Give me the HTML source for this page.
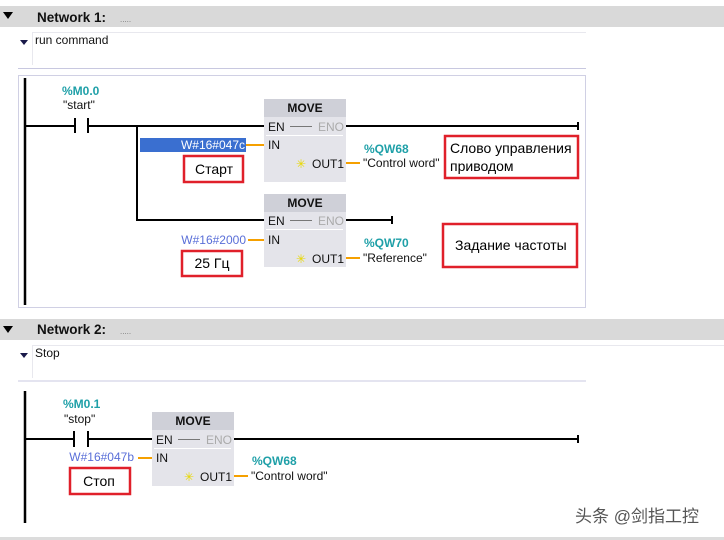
<!DOCTYPE html>
<html><head><meta charset="utf-8"><style>
html,body{margin:0;padding:0;background:#fff;width:724px;height:540px;overflow:hidden}
svg{display:block}
text{font-family:"Liberation Sans","Noto Sans CJK SC",sans-serif}
</style></head><body>
<svg width="724" height="540" viewBox="0 0 724 540" xmlns="http://www.w3.org/2000/svg">
<!-- Network 1 header -->
<rect x="0" y="6" width="724" height="21" fill="#d9d9d9"/>
<polygon points="3,12 13,12 8,19" fill="#000"/>
<text x="37" y="22" font-size="13.5" font-weight="bold" fill="#111">Network 1:</text>
<text x="120" y="22" font-size="8" fill="#777">.....</text>
<line x1="32" y1="32.5" x2="586" y2="32.5" stroke="#e8e8ee"/>
<line x1="32.5" y1="32" x2="32.5" y2="65" stroke="#e8e8ee"/>
<polygon points="20,40 28,40 24,45" fill="#1a1a4a"/>
<text x="35" y="44" font-size="12" fill="#111">run command</text>
<line x1="18" y1="68.5" x2="586" y2="68.5" stroke="#c8c8e0"/>
<rect x="18.5" y="75.5" width="567" height="232" fill="none" stroke="#d0d0e4"/>
<line x1="25" y1="78" x2="25" y2="305" stroke="#000" stroke-width="2.5"/>
<!-- contact -->
<text x="62" y="95" font-size="12" font-weight="bold" fill="#1fa0a8">%M0.0</text>
<text x="63" y="109" font-size="12" fill="#111">"start"</text>
<line x1="25" y1="126" x2="74" y2="126" stroke="#000" stroke-width="2"/>
<line x1="75" y1="118" x2="75" y2="133" stroke="#000" stroke-width="2"/>
<line x1="88" y1="118" x2="88" y2="133" stroke="#000" stroke-width="2"/>
<line x1="88" y1="126" x2="264" y2="126" stroke="#000" stroke-width="2"/>
<line x1="137" y1="126" x2="137" y2="221" stroke="#000" stroke-width="2"/>
<line x1="137" y1="220" x2="264" y2="220" stroke="#000" stroke-width="2"/>
<line x1="346" y1="126" x2="578" y2="126" stroke="#000" stroke-width="2"/>
<line x1="578" y1="122" x2="578" y2="130" stroke="#000" stroke-width="2"/>
<line x1="346" y1="220" x2="392" y2="220" stroke="#000" stroke-width="2"/>
<line x1="392" y1="216" x2="392" y2="224" stroke="#000" stroke-width="2"/>
<!-- box 1 -->
<rect x="264" y="99" width="82" height="83" fill="#e4e4ea"/>
<rect x="264" y="99" width="82" height="18" fill="#cfd0d8"/>
<text x="305" y="112" font-size="12" font-weight="bold" text-anchor="middle" fill="#111">MOVE</text>
<text x="268" y="131" font-size="12" fill="#111">EN</text>
<line x1="290" y1="126.5" x2="312" y2="126.5" stroke="#777"/>
<text x="318" y="131" font-size="12" fill="#aaa">ENO</text>
<line x1="266" y1="135.5" x2="343" y2="135.5" stroke="#fff"/>
<text x="268" y="149" font-size="12" fill="#111">IN</text>
<text x="296" y="168" font-size="12" fill="#e8d800">✳</text>
<text x="312" y="168" font-size="12" fill="#111">OUT1</text>
<rect x="140" y="138" width="106" height="14" fill="#3a6fd0"/>
<text x="245" y="149" font-size="12" text-anchor="end" fill="#fff">W#16#047c</text>
<line x1="246" y1="145" x2="264" y2="145" stroke="#f5a000" stroke-width="2"/>
<rect x="184" y="156" width="59" height="26" fill="none" stroke="#e0202a" stroke-width="2.5"/>
<text x="214" y="174" font-size="14" text-anchor="middle" fill="#000">Старт</text>
<line x1="346" y1="163" x2="360" y2="163" stroke="#f5a000" stroke-width="2"/>
<text x="364" y="153" font-size="12" font-weight="bold" fill="#1fa0a8">%QW68</text>
<text x="363" y="167" font-size="12" fill="#111">"Control word"</text>
<rect x="445" y="136" width="133" height="42" fill="none" stroke="#e0202a" stroke-width="2.5"/>
<text x="450" y="153" font-size="14" fill="#000">Слово управления</text>
<text x="450" y="171" font-size="14" fill="#000">приводом</text>
<!-- box 2 -->
<rect x="264" y="194" width="82" height="73" fill="#e4e4ea"/>
<rect x="264" y="194" width="82" height="18" fill="#cfd0d8"/>
<text x="305" y="207" font-size="12" font-weight="bold" text-anchor="middle" fill="#111">MOVE</text>
<text x="268" y="225" font-size="12" fill="#111">EN</text>
<line x1="290" y1="220.5" x2="312" y2="220.5" stroke="#777"/>
<text x="318" y="225" font-size="12" fill="#aaa">ENO</text>
<line x1="266" y1="229.5" x2="343" y2="229.5" stroke="#fff"/>
<text x="268" y="244" font-size="12" fill="#111">IN</text>
<text x="296" y="263" font-size="12" fill="#e8d800">✳</text>
<text x="312" y="263" font-size="12" fill="#111">OUT1</text>
<text x="246" y="244" font-size="12" text-anchor="end" fill="#5a6fd8">W#16#2000</text>
<line x1="248" y1="240" x2="264" y2="240" stroke="#f5a000" stroke-width="2"/>
<rect x="182" y="251" width="60" height="25" fill="none" stroke="#e0202a" stroke-width="2.5"/>
<text x="212" y="268" font-size="14" text-anchor="middle" fill="#000">25 Гц</text>
<line x1="346" y1="258" x2="360" y2="258" stroke="#f5a000" stroke-width="2"/>
<text x="364" y="247" font-size="12" font-weight="bold" fill="#1fa0a8">%QW70</text>
<text x="363" y="262" font-size="12" fill="#111">"Reference"</text>
<rect x="443" y="224" width="134" height="43" fill="none" stroke="#e0202a" stroke-width="2.5"/>
<text x="455" y="250" font-size="14" fill="#000">Задание частоты</text>

<!-- Network 2 -->
<rect x="0" y="319" width="724" height="21" fill="#d9d9d9"/>
<polygon points="3,326 13,326 8,333" fill="#000"/>
<text x="37" y="334" font-size="13.5" font-weight="bold" fill="#111">Network 2:</text>
<text x="120" y="334" font-size="8" fill="#777">.....</text>
<line x1="32" y1="345.5" x2="724" y2="345.5" stroke="#e8e8ee"/>
<line x1="32.5" y1="345" x2="32.5" y2="378" stroke="#e8e8ee"/>
<polygon points="20,353 28,353 24,358" fill="#1a1a4a"/>
<text x="35" y="357" font-size="12" fill="#111">Stop</text>
<line x1="18" y1="381" x2="586" y2="381" stroke="#c8c8e0"/>
<line x1="25" y1="391" x2="25" y2="523" stroke="#000" stroke-width="2.5"/>
<text x="63" y="408" font-size="12" font-weight="bold" fill="#1fa0a8">%M0.1</text>
<text x="64" y="423" font-size="12" fill="#111">"stop"</text>
<line x1="25" y1="439" x2="74" y2="439" stroke="#000" stroke-width="2"/>
<line x1="74" y1="431" x2="74" y2="447" stroke="#000" stroke-width="2"/>
<line x1="88" y1="431" x2="88" y2="447" stroke="#000" stroke-width="2"/>
<line x1="88" y1="439" x2="152" y2="439" stroke="#000" stroke-width="2"/>
<line x1="234" y1="439" x2="578" y2="439" stroke="#000" stroke-width="2"/>
<line x1="578" y1="435" x2="578" y2="443" stroke="#000" stroke-width="2"/>
<rect x="152" y="412" width="82" height="74" fill="#e4e4ea"/>
<rect x="152" y="412" width="82" height="18" fill="#cfd0d8"/>
<text x="193" y="425" font-size="12" font-weight="bold" text-anchor="middle" fill="#111">MOVE</text>
<text x="156" y="444" font-size="12" fill="#111">EN</text>
<line x1="178" y1="439.5" x2="200" y2="439.5" stroke="#777"/>
<text x="206" y="444" font-size="12" fill="#aaa">ENO</text>
<line x1="154" y1="448.5" x2="231" y2="448.5" stroke="#fff"/>
<text x="156" y="462" font-size="12" fill="#111">IN</text>
<text x="184" y="481" font-size="12" fill="#e8d800">✳</text>
<text x="200" y="481" font-size="12" fill="#111">OUT1</text>
<text x="134" y="461" font-size="12" text-anchor="end" fill="#5a6fd8">W#16#047b</text>
<line x1="138" y1="458" x2="152" y2="458" stroke="#f5a000" stroke-width="2"/>
<rect x="70" y="468" width="60" height="26" fill="none" stroke="#e0202a" stroke-width="2.5"/>
<text x="99" y="486" font-size="14" text-anchor="middle" fill="#000">Стоп</text>
<line x1="234" y1="476" x2="248" y2="476" stroke="#f5a000" stroke-width="2"/>
<text x="252" y="465" font-size="12" font-weight="bold" fill="#1fa0a8">%QW68</text>
<text x="251" y="480" font-size="12" fill="#111">"Control word"</text>
<text x="575" y="522" font-size="17" fill="#555">头条 @剑指工控</text>
<rect x="0" y="537" width="724" height="3" fill="#dcdcdc"/>
</svg>
</body></html>
